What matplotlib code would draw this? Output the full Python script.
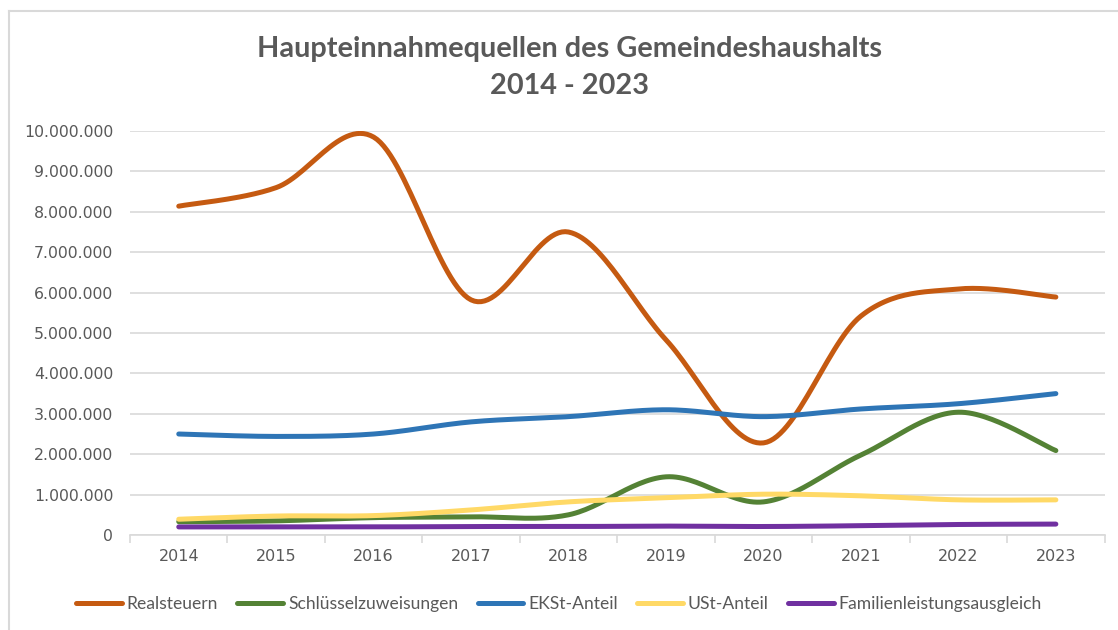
import numpy as np
import matplotlib
matplotlib.use("Agg")
from matplotlib import pyplot as plt
from matplotlib.lines import Line2D
from matplotlib.ticker import FuncFormatter

jahre = ["2014", "2015", "2016", "2017", "2018", "2019", "2020", "2021", "2022", "2023"]
realsteuern = [8140000, 8600000, 9850000, 5820000, 7500000, 4830000, 2280000, 5420000, 6090000, 5890000]
schluessel = [330000, 350000, 430000, 450000, 500000, 1440000, 820000, 1980000, 3040000, 2090000]
ekst = [2500000, 2440000, 2500000, 2800000, 2930000, 3100000, 2930000, 3120000, 3250000, 3500000]
ust = [390000, 470000, 480000, 620000, 820000, 920000, 1010000, 970000, 870000, 870000]
familien = [200000, 200000, 200000, 210000, 210000, 220000, 210000, 230000, 260000, 270000]

namen = ["Realsteuern", "Schlüsselzuweisungen", "EKSt-Anteil", "USt-Anteil", "Familienleistungsausgleich"]
farben = ["#C55A11", "#548235", "#2E75B6", "#FFD966", "#7030A0"]


def glatt(y, n=30):
    # Catmull-Rom Kurve durch die Punkte, wie "geglättete Linie" in Excel
    y = np.asarray(y, dtype=float)
    x = np.arange(len(y), dtype=float)
    p = np.vstack([x, y]).T
    p = np.vstack([p[0], p, p[-1]])
    xs, ys = [], []
    t = np.linspace(0, 1, n)
    for i in range(1, len(p) - 2):
        p0, p1, p2, p3 = p[i - 1], p[i], p[i + 1], p[i + 2]
        c1 = p1 + (p2 - p0) / 6
        c2 = p2 - (p3 - p1) / 6
        b = ((1 - t) ** 3)[:, None] * p1 + (3 * (1 - t) ** 2 * t)[:, None] * c1 \
            + (3 * (1 - t) * t ** 2)[:, None] * c2 + (t ** 3)[:, None] * p2
        xs.extend(b[:, 0])
        ys.extend(b[:, 1])
    return np.array(xs), np.array(ys)


fig = plt.figure(figsize=(11.18, 6.3), dpi=100)
# Rahmen (nur oben und links sichtbar)
fig.add_artist(Line2D([0.008, 1.0], [0.982, 0.982], transform=fig.transFigure, color="#D9D9D9", linewidth=1.5))
fig.add_artist(Line2D([0.008, 0.008], [0.0, 0.982], transform=fig.transFigure, color="#D9D9D9", linewidth=1.5))

ax = fig.add_axes([0.1163, 0.1508, 0.8717, 0.6412])

for werte, name, farbe in zip([realsteuern, schluessel, ekst, ust, familien], namen, farben):
    xs, ys = glatt(werte)
    ax.plot(xs, ys, color=farbe, linewidth=3.6, solid_capstyle="round", label=name)

ax.set_xlim(-0.5, len(jahre) - 0.5)
ax.set_ylim(0, 10000000)
ax.set_yticks(np.arange(0, 10000001, 1000000))
ax.yaxis.set_major_formatter(FuncFormatter(lambda v, p: f"{int(v):,}".replace(",", ".")))
ax.set_xticks(range(len(jahre)))
ax.set_xticklabels(jahre)
ax.set_xticks(np.arange(-0.5, len(jahre), 1), minor=True)
ax.tick_params(axis="x", which="major", length=0, pad=10, labelsize=11.5, labelcolor="#595959")
ax.tick_params(axis="x", which="minor", length=6, color="#D9D9D9", width=1.2)
ax.tick_params(axis="y", length=0, pad=12, labelsize=11.3, labelcolor="#595959")
ax.grid(axis="y", color="#D9D9D9", linewidth=1.2)
ax.set_axisbelow(True)
for s in ["top", "right", "left"]:
    ax.spines[s].set_visible(False)
ax.spines["bottom"].set_color("#D9D9D9")
ax.spines["bottom"].set_linewidth(1.2)

fig.text(0.509, 0.893, "Haupteinnahmequellen des Gemeindeshaushalts\n2014 - 2023", ha="center", va="center",
         fontsize=20.8, fontweight="bold", color="#595959", family="Lato", linespacing=1.5)

fig.legend(loc="center", bbox_to_anchor=(0.5, 0.041), ncol=5, frameon=False, handlelength=2.6,
           handletextpad=0.3, columnspacing=1.1, prop={"family": "Lato", "size": 12.6},
           labelcolor="#595959")

fig.savefig("out.png", dpi=100)
